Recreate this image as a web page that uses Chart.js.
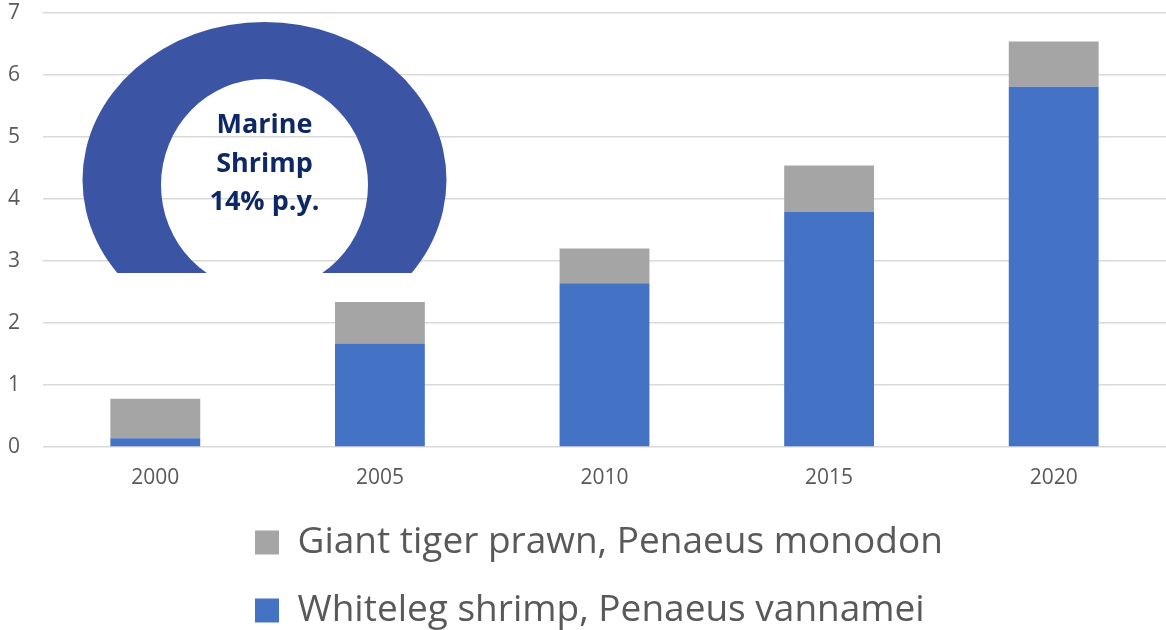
<!DOCTYPE html>
<html>
<head>
<meta charset="utf-8">
<script src="https://cdn.jsdelivr.net/npm/chart.js@4/dist/chart.umd.min.js"></script>
<style>
  html, body { margin: 0; padding: 0; background: #fff; }
  #wrap { width: 1166px; height: 630px; position: relative; }
</style>
</head>
<body>
<div id="wrap"><canvas id="shrimpChart"></canvas></div>
<script>
// data
const years = ['2000', '2005', '2010', '2015', '2020'];
const whitelegShrimp = [0.14, 1.67, 2.64, 3.79, 5.81];
const giantTigerPrawn = [0.64, 0.67, 0.56, 0.75, 0.73];
const yTicks = [0, 1, 2, 3, 4, 5, 6, 7];
const seriesNames = ['Whiteleg shrimp, Penaeus vannamei', 'Giant tiger prawn, Penaeus monodon'];
const badgeLines = ['Marine', 'Shrimp', '14% p.y.'];

const FONT = "'Open Sans', Lato, sans-serif";

// horseshoe badge top left
const badgePlugin = {
    id: 'badge',
    beforeDraw(chart) {
        // legend rows are left aligned under the chart
        chart.legend.left = 224;
        chart.legend.top = 493;
    },
    afterDatasetsDraw(chart) {
        const ctx = chart.ctx;
        const cx = 264.5;
        ctx.save();
        ctx.beginPath();
        ctx.rect(0, 0, 600, 273);
        ctx.clip();
        ctx.beginPath();
        ctx.ellipse(cx, 180, 182, 158, 0, 0, Math.PI * 2);
        ctx.ellipse(cx, 185, 103.5, 106, 0, 0, Math.PI * 2);
        ctx.fillStyle = '#3B55A4';
        ctx.fill('evenodd');
        ctx.restore();

        ctx.save();
        ctx.fillStyle = '#0D2864';
        ctx.font = 'bold 27px ' + FONT;
        ctx.textAlign = 'center';
        ctx.textBaseline = 'alphabetic';
        const baselines = [133, 172, 210];
        badgeLines.forEach((txt, i) => ctx.fillText(txt, cx, baselines[i]));
        ctx.restore();
    }
};

function createChart() {
    const ctx = document.getElementById('shrimpChart').getContext('2d');
    new Chart(ctx, {
        type: 'bar',
        data: {
            labels: years,
            datasets: [
                {
                    label: seriesNames[0],
                    data: whitelegShrimp,
                    backgroundColor: '#4472C4',
                    borderWidth: 0
                },
                {
                    label: seriesNames[1],
                    data: giantTigerPrawn,
                    backgroundColor: '#A5A5A5',
                    borderWidth: 0
                }
            ]
        },
        options: {
            responsive: true,
            maintainAspectRatio: false,
            animation: false,
            datasets: {
                bar: {
                    categoryPercentage: 1,
                    barPercentage: 0.4
                }
            },
            layout: {
                padding: { left: 8, top: 13, right: 0, bottom: 0 }
            },
            plugins: {
                tooltip: { enabled: false },
                legend: {
                    position: 'bottom',
                    align: 'start',
                    reverse: true,
                    labels: {
                        boxWidth: 24,
                        boxHeight: 24,
                        padding: 31,
                        color: '#595959',
                        font: { family: FONT, size: 37 }
                    }
                }
            },
            scales: {
                x: {
                    stacked: true,
                    grid: { display: false },
                    border: { display: false },
                    ticks: {
                        color: '#595959',
                        padding: 10,
                        font: { family: FONT, size: 21 }
                    },
                    afterFit: (axis) => {
                        axis.height = 37;
                        axis.paddingLeft = 0;
                        axis.paddingRight = 0;
                    }
                },
                y: {
                    stacked: true,
                    min: yTicks[0],
                    max: yTicks[yTicks.length - 1],
                    afterBuildTicks: (axis) => {
                        axis.ticks = yTicks.map(v => ({ value: v }));
                    },
                    afterFit: (axis) => {
                        axis.width = 35;
                        axis.paddingTop = 0;
                        axis.paddingBottom = 0;
                    },
                    grid: {
                        color: '#D9D9D9',
                        lineWidth: 1.5,
                        drawTicks: false
                    },
                    border: { display: false },
                    ticks: {
                        color: '#595959',
                        padding: 23,
                        font: { family: FONT, size: 21 }
                    }
                }
            }
        },
        plugins: [badgePlugin]
    });
}

document.addEventListener('DOMContentLoaded', () => {
    createChart();
});
</script>
</body>
</html>
